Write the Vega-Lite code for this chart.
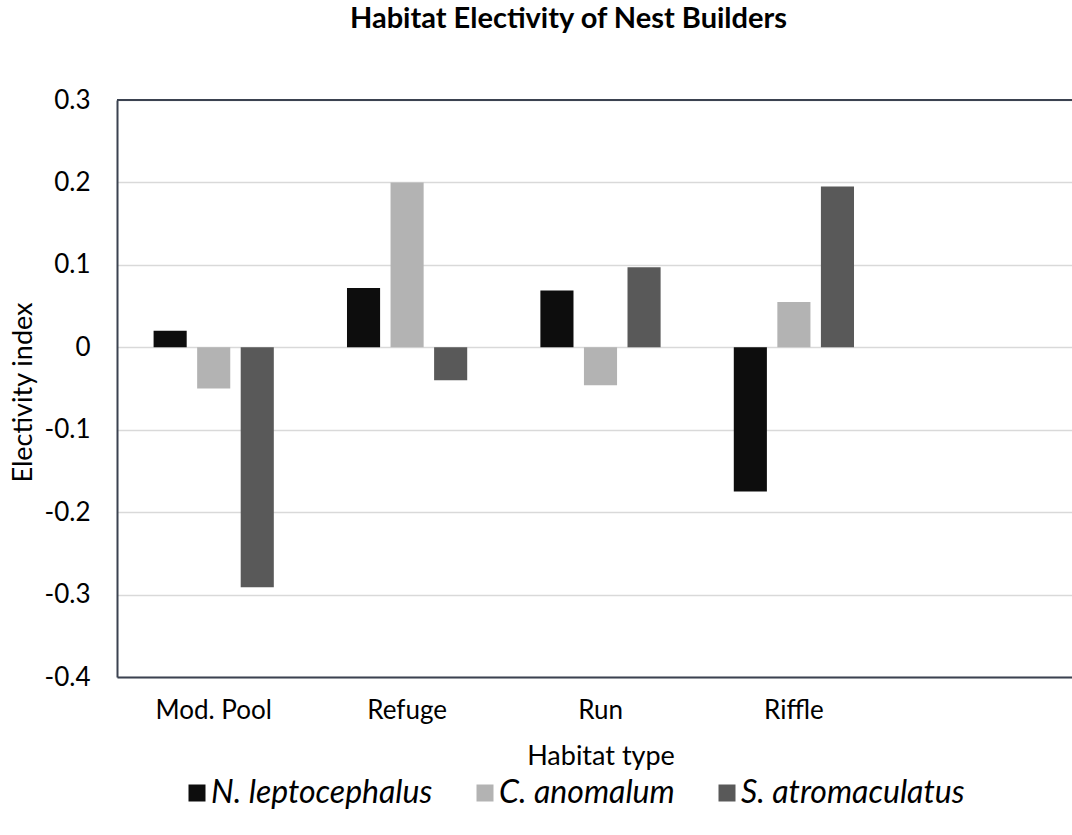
{
  "$schema": "https://vega.github.io/schema/vega-lite/v6.json",
  "autosize": "none",
  "padding": {"left": 117, "top": 100, "right": 0, "bottom": 158},
  "width": 955,
  "height": 577,
  "background": "white",
  "config": {
    "font": "Lato",
    "view": {"stroke": null},
    "axis": {"labelFont": "Lato", "titleFont": "Lato", "labelColor": "#000000", "titleColor": "#000000", "titleFontWeight": "normal"}
  },
  "title": {
    "text": "Habitat Electivity of Nest Builders",
    "anchor": "middle",
    "frame": "group",
    "dx": -26,
    "offset": 30,
    "baseline": "alphabetic",
    "font": "Lato",
    "fontSize": 29,
    "fontWeight": "bold",
    "color": "#000000"
  },
  "layer": [
    {
      "data": {
        "values": [
          {"habitat": "Mod. Pool", "species": "N. leptocephalus", "value": 0.02},
          {"habitat": "Mod. Pool", "species": "C. anomalum", "value": -0.05},
          {"habitat": "Mod. Pool", "species": "S. atromaculatus", "value": -0.291},
          {"habitat": "Refuge", "species": "N. leptocephalus", "value": 0.072},
          {"habitat": "Refuge", "species": "C. anomalum", "value": 0.2},
          {"habitat": "Refuge", "species": "S. atromaculatus", "value": -0.04},
          {"habitat": "Run", "species": "N. leptocephalus", "value": 0.069},
          {"habitat": "Run", "species": "C. anomalum", "value": -0.046},
          {"habitat": "Run", "species": "S. atromaculatus", "value": 0.097},
          {"habitat": "Riffle", "species": "N. leptocephalus", "value": -0.175},
          {"habitat": "Riffle", "species": "C. anomalum", "value": 0.055},
          {"habitat": "Riffle", "species": "S. atromaculatus", "value": 0.195}
        ]
      },
      "mark": {"type": "bar"},
      "encoding": {
        "x": {
          "field": "habitat",
          "type": "nominal",
          "scale": {"domain": ["Mod. Pool", "Refuge", "Run", "Riffle", "_blank"], "range": [0, 967], "paddingInner": 0, "paddingOuter": 0},
          "axis": {
            "title": "Habitat type",
            "labelAngle": 0,
            "labelFontSize": 26,
            "titleFontSize": 27,
            "ticks": false,
            "labelPadding": 20,
            "domainColor": "#3b4250",
            "domainWidth": 2,
            "titleY": 79,
            "titleBaseline": "middle",
            "labelExpr": "datum.label == '_blank' ? '' : datum.label"
          }
        },
        "xOffset": {
          "field": "species",
          "type": "nominal",
          "scale": {"domain": ["N. leptocephalus", "C. anomalum", "S. atromaculatus"], "paddingInner": 0.24, "paddingOuter": 0.84}
        },
        "y": {
          "field": "value",
          "type": "quantitative",
          "scale": {"domain": [-0.4, 0.3], "nice": false, "zero": false},
          "axis": {
            "title": "Electivity index",
            "values": [-0.4, -0.3, -0.2, -0.1, 0, 0.1, 0.2, 0.3],
            "labelExpr": "replace(format(datum.value, '.1~f'), '\u2212', '-')",
            "labelFontSize": 26,
            "titleFontSize": 27,
            "ticks": false,
            "labelPadding": 27,
            "domainColor": "#3b4250",
            "domainWidth": 2,
            "gridColor": "#d9d9d9",
            "gridWidth": 1.5,
            "titleX": -94,
            "titleY": 292,
            "titleBaseline": "middle",
            "titleAlign": "center"
          }
        },
        "color": {
          "field": "species",
          "type": "nominal",
          "scale": {"domain": ["N. leptocephalus", "C. anomalum", "S. atromaculatus"], "range": ["#0d0d0d", "#b3b3b3", "#595959"]},
          "legend": {
            "title": null,
            "orient": "none",
            "direction": "horizontal",
            "legendX": 64,
            "legendY": 677,
            "symbolType": "square",
            "symbolSize": 289,
            "symbolStrokeWidth": 0,
            "symbolOpacity": 1,
            "labelFont": "Lato",
            "labelFontSize": 32,
            "labelFontStyle": "italic",
            "labelColor": "#000000",
            "labelOffset": -2,
            "columnPadding": 36,
            "labelLimit": 400
          }
        }
      }
    },
    {
      "data": {"values": [{"top": 0.3}]},
      "mark": {"type": "rule", "color": "#3b4250", "strokeWidth": 2},
      "encoding": {"y": {"field": "top", "type": "quantitative"}}
    }
  ]
}
